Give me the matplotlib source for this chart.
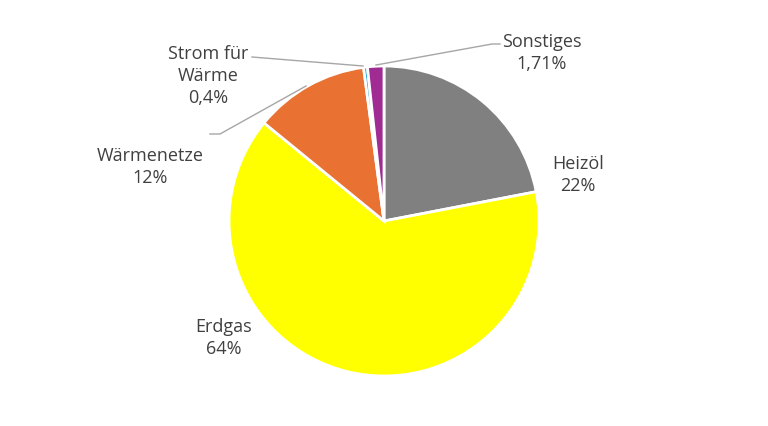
import matplotlib.pyplot as plt

# Anteile der Energieträger
labels = ["Heizöl", "Erdgas", "Wärmenetze", "Strom für\nWärme", "Sonstiges"]
values = [22, 64, 12, 0.4, 1.71]
value_text = ["22%", "64%", "12%", "0,4%", "1,71%"]
colors = ["#808080", "#FFFF00", "#E97132", "#0F9ED5", "#A02B93"]

plt.rcParams["font.family"] = ["Open Sans", "DejaVu Sans"]

fig = plt.figure(figsize=(7.68, 4.27), dpi=100)
ax = fig.add_axes([0, 0, 1, 1])

H = 427
ax.pie(values, colors=colors, startangle=90, counterclock=False,
       center=(384, H - 222), radius=155, frame=True,
       wedgeprops=dict(edgecolor="white", linewidth=2))
ax.set_xlim(0, 768)
ax.set_ylim(0, 427)
ax.set_aspect("equal")
ax.axis("off")

# Beschriftungen (Position in Pixeln)
pos = {
    "Heizöl": (578, 175),
    "Erdgas": (224, 338),
    "Wärmenetze": (150, 167),
    "Strom für\nWärme": (208, 76),
    "Sonstiges": (542, 53),
}
for lab, txt in zip(labels, value_text):
    x, y = pos[lab]
    ax.text(x, H - y, lab + "\n" + txt, ha="center", va="center",
            fontsize=13, color="#404040", linespacing=1.32)

# Führungslinien
lc = "#A6A6A6"
ax.plot([500, 492, 376], [H - 45, H - 45, H - 66], color=lc, lw=1)
ax.plot([252, 363], [H - 58, H - 67], color=lc, lw=1)
ax.plot([210, 220, 306], [H - 135, H - 135, H - 87], color=lc, lw=1)

fig.savefig("out.png", dpi=100)
